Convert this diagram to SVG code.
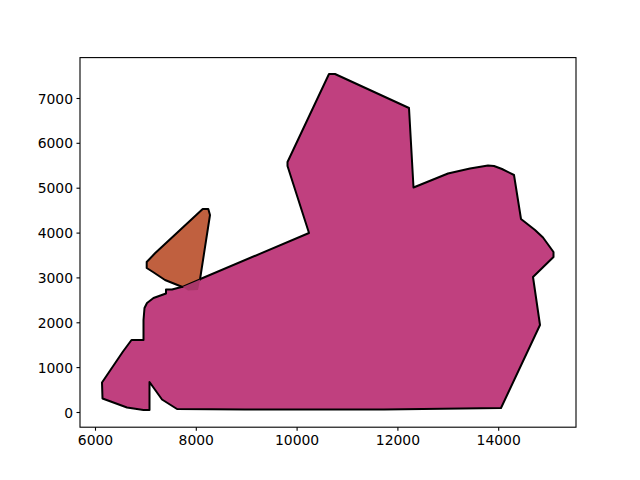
<svg xmlns="http://www.w3.org/2000/svg" width="640" height="480" viewBox="0 0 640 480">
<style>
.tick{stroke:#000;stroke-width:1.1}
.lbl{font-family:"DejaVu Sans",sans-serif;font-size:13.9px;fill:#000}
.poly{stroke:#000;stroke-width:2;stroke-linejoin:round}
</style>
<rect width="640" height="480" fill="#fff"/>
<g id="shape-magenta">
<polygon class="poly" fill="#c0407f" points="329,74 335,74 409,108 413.5,187.5 448,173.5 470,168.5 488,165.5 494,166 502,169 514,175 521,219 535,230 543,237.5 553.5,252 553.5,257 533,277 540,325 501,408 384,409.5 245,409.5 177,409 162,399.5 149.5,382 149.5,410 143.5,410 127,407.5 102.5,398.5 102,382.5 123,351.5 131.5,340 143.5,340 143.5,320 144.5,308 147,303 153.5,298 166,293.5 166,289.5 172,289.5 181.5,287 309,233 287.5,166 287.5,162"/>
</g>
<g id="shape-orange">
<polygon class="poly" fill="#c0603f" points="202.7,209 208.3,209 210,215 200,279.5 182.5,287 165,280 153,272 146.7,268 146.7,262 155,253.3"/>
<polygon fill="#a8386a" points="182.5,287 200.2,279.4 198,290 188,290.5"/>
</g>
<g id="axes">
<rect x="80" y="57.6" width="496" height="369.6" fill="none" stroke="#000" stroke-width="1.1"/>
<g class="tick">
<line x1="95.5" y1="427.2" x2="95.5" y2="430.7"/>
<line x1="196.3" y1="427.2" x2="196.3" y2="430.7"/>
<line x1="297.1" y1="427.2" x2="297.1" y2="430.7"/>
<line x1="397.9" y1="427.2" x2="397.9" y2="430.7"/>
<line x1="498.7" y1="427.2" x2="498.7" y2="430.7"/>
<line x1="80" y1="412.5" x2="76.5" y2="412.5"/>
<line x1="80" y1="367.6" x2="76.5" y2="367.6"/>
<line x1="80" y1="322.8" x2="76.5" y2="322.8"/>
<line x1="80" y1="277.9" x2="76.5" y2="277.9"/>
<line x1="80" y1="233.1" x2="76.5" y2="233.1"/>
<line x1="80" y1="188.2" x2="76.5" y2="188.2"/>
<line x1="80" y1="143.3" x2="76.5" y2="143.3"/>
<line x1="80" y1="98.5" x2="76.5" y2="98.5"/>
</g>
<g class="lbl" text-anchor="middle">
<text x="95.5" y="445">6000</text>
<text x="196.3" y="445">8000</text>
<text x="297.1" y="445">10000</text>
<text x="397.9" y="445">12000</text>
<text x="498.7" y="445">14000</text>
</g>
<g class="lbl" text-anchor="end">
<text x="73" y="417.5">0</text>
<text x="73" y="372.6">1000</text>
<text x="73" y="327.8">2000</text>
<text x="73" y="282.9">3000</text>
<text x="73" y="238.1">4000</text>
<text x="73" y="193.2">5000</text>
<text x="73" y="148.3">6000</text>
<text x="73" y="103.5">7000</text>
</g>
</g>
</svg>
